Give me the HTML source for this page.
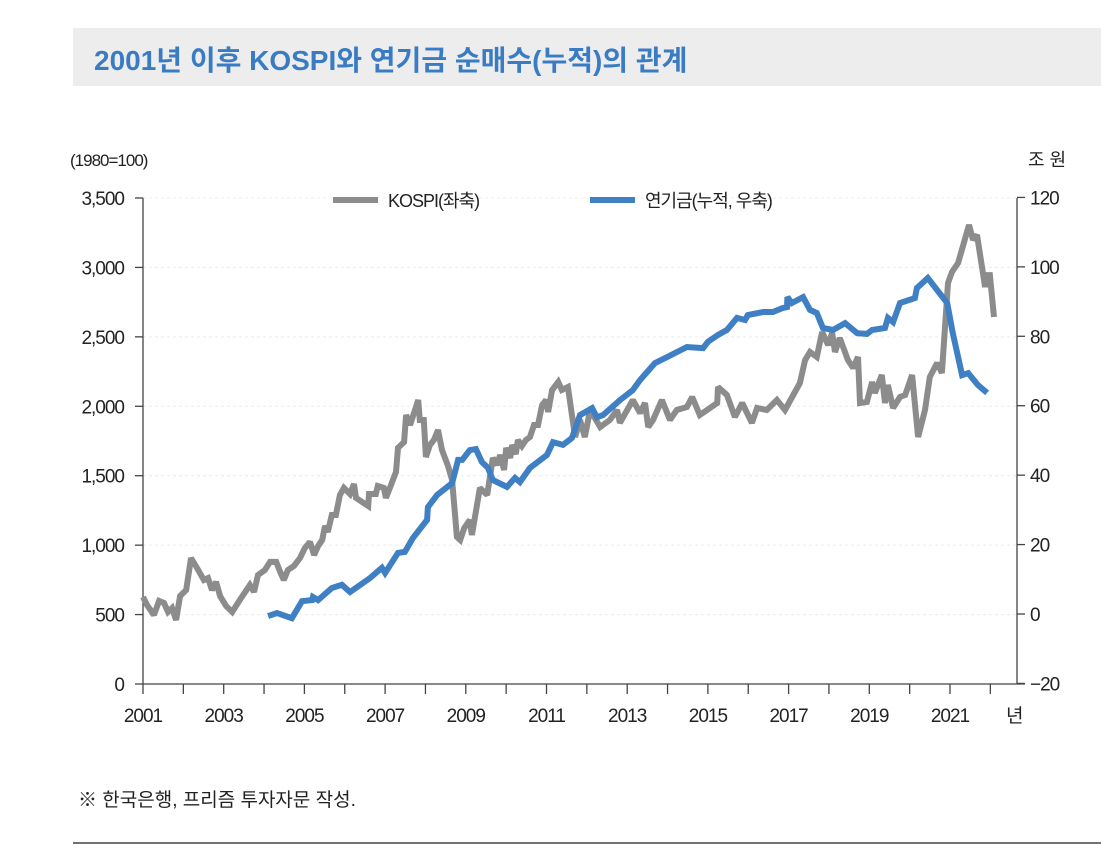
<!DOCTYPE html>
<html><head><meta charset="utf-8"><style>
body{margin:0;background:#fff;width:1101px;height:856px;overflow:hidden;font-family:"Liberation Sans","Noto Sans CJK KR",sans-serif;}
svg text{font-family:"Liberation Sans","Noto Sans CJK KR",sans-serif;}
</style></head><body>
<svg id="chart" width="1101" height="856">
<rect x="73" y="28" width="1028" height="58" fill="#ededed"/>
<text x="94" y="70" font-size="28" font-weight="bold" fill="#3a7cc3">2001년 이후 KOSPI와 연기금 순매수(누적)의 관계</text>
<text x="70" y="166" font-size="17" fill="#222" style="letter-spacing:-1px">(1980=100)</text>
<text x="1028" y="166" font-size="18" fill="#222">조 원</text>
<g id="grid"></g><g id="axes"></g><g id="series"></g>
<line x1="333" y1="200" x2="378" y2="200" stroke="#8c8c8c" stroke-width="6"/>
<text x="388" y="207" font-size="18" fill="#222" style="letter-spacing:-1px">KOSPI(좌축)</text>
<line x1="590" y1="200" x2="635" y2="200" stroke="#3f7fc3" stroke-width="6"/>
<text x="645" y="207" font-size="18" fill="#222" style="letter-spacing:-1px">연기금(누적, 우축)</text>
<text x="78" y="806" font-size="19" fill="#222">※ 한국은행, 프리즘 투자자문 작성.</text>
<line x1="73" y1="843" x2="1101" y2="843" stroke="#444" stroke-width="1.5"/>
</svg>
<script>
const leftTicks=[0,500,1000,1500,2000,2500,3000,3500];
const rightTicks=[-20,0,20,40,60,80,100,120];
const xLabels=[2001,2003,2005,2007,2009,2011,2013,2015,2017,2019,2021];
const kospiT=[2001.00,2001.10,2001.27,2001.40,2001.52,2001.62,2001.72,2001.82,2001.92,2002.07,2002.19,2002.34,2002.51,2002.61,2002.71,2002.81,2002.91,2003.06,2003.21,2003.40,2003.65,2003.75,2003.85,2004.02,2004.15,2004.30,2004.40,2004.49,2004.59,2004.74,2004.89,2005.01,2005.14,2005.24,2005.34,2005.44,2005.51,2005.58,2005.68,2005.78,2005.88,2005.98,2006.13,2006.23,2006.28,2006.43,2006.58,2006.60,2006.77,2006.82,2006.97,2007.02,2007.12,2007.27,2007.32,2007.47,2007.52,2007.62,2007.82,2007.86,2007.96,2008.01,2008.11,2008.21,2008.31,2008.41,2008.56,2008.66,2008.78,2008.86,2008.96,2009.10,2009.15,2009.35,2009.53,2009.67,2009.77,2009.85,2009.95,2010.00,2010.10,2010.15,2010.24,2010.29,2010.39,2010.49,2010.59,2010.69,2010.79,2010.89,2010.99,2011.04,2011.14,2011.29,2011.38,2011.53,2011.71,2011.83,2011.95,2012.08,2012.33,2012.57,2012.75,2012.82,2013.00,2013.14,2013.32,2013.44,2013.52,2013.64,2013.86,2014.06,2014.23,2014.48,2014.61,2014.80,2014.98,2015.23,2015.25,2015.47,2015.67,2015.85,2016.09,2016.22,2016.46,2016.71,2016.91,2017.28,2017.41,2017.53,2017.70,2017.83,2017.98,2018.08,2018.15,2018.27,2018.47,2018.60,2018.72,2018.77,2018.94,2019.07,2019.14,2019.31,2019.39,2019.46,2019.59,2019.76,2019.89,2020.06,2020.21,2020.38,2020.50,2020.68,2020.80,2020.95,2021.05,2021.20,2021.47,2021.57,2021.67,2021.87,2021.92,2021.99,2022.09];
const kospiV=[627,569,497,598,583,519,547,461,634,677,907,835,749,763,677,735,634,562,519,605,713,663,785,821,879,879,807,749,821,850,907,979,1023,929,994,1037,1138,1095,1217,1217,1361,1412,1368,1440,1340,1311,1282,1368,1368,1426,1412,1340,1412,1527,1700,1743,1937,1865,2045,1901,1901,1635,1721,1757,1829,1685,1570,1469,1059,1037,1123,1181,1073,1412,1361,1628,1577,1649,1541,1700,1628,1721,1656,1757,1714,1757,1779,1865,1865,2009,2045,1959,2117,2175,2117,2139,1779,1901,1779,1973,1851,1901,1973,1880,1973,2045,1952,2024,1851,1901,2045,1901,1973,1995,2067,1937,1973,2024,2139,2081,1923,2024,1880,1988,1973,2045,1973,2168,2333,2391,2355,2535,2441,2528,2391,2492,2333,2276,2355,2024,2031,2175,2096,2225,2024,2153,1988,2067,2081,2225,1779,1973,2211,2312,2240,2888,2967,3032,3306,3198,3234,2859,2945,2945,2643];
const pensionT=[2004.10,2004.32,2004.69,2004.94,2005.19,2005.21,2005.34,2005.68,2005.93,2006.13,2006.63,2006.92,2007.00,2007.32,2007.49,2007.69,2008.04,2008.06,2008.29,2008.66,2008.81,2008.91,2009.10,2009.25,2009.40,2009.55,2009.67,2010.02,2010.22,2010.34,2010.59,2011.01,2011.16,2011.41,2011.63,2011.83,2012.13,2012.25,2012.40,2012.82,2013.14,2013.32,2013.69,2013.99,2014.48,2014.88,2015.00,2015.25,2015.47,2015.72,2015.92,2015.99,2016.37,2016.61,2016.84,2016.96,2016.97,2017.08,2017.36,2017.53,2017.70,2017.85,2018.10,2018.40,2018.70,2018.94,2019.07,2019.39,2019.46,2019.59,2019.76,2020.13,2020.18,2020.45,2020.93,2021.07,2021.30,2021.45,2021.69,2021.92];
const pensionV=[-0.6,0.3,-1.2,3.7,4.0,4.9,4.0,7.5,8.4,6.3,10.4,13.3,11.8,17.6,17.9,21.9,27.1,30.8,34.3,37.7,44.4,44.4,47.2,47.5,43.8,42.1,38.6,36.6,39.2,38.0,42.1,45.8,49.5,48.7,50.7,57.3,59.3,56.7,57.3,61.6,64.5,67.4,72.3,74.0,76.9,76.6,78.4,80.4,81.8,85.3,84.7,86.1,87.0,87.0,88.1,88.4,91.3,89.6,91.3,87.6,86.7,82.4,81.8,83.8,80.9,80.7,81.8,82.4,85.3,84.1,89.6,91.0,93.9,96.8,89.6,80.9,68.8,69.4,66.0,63.7];
const X=t=>143+(t-2001)*40.35;
const YL=v=>684-v*(486/3500);
const YR=v=>614-v*(486/140);
const NS='http://www.w3.org/2000/svg';
function mk(tag,attrs,parent){const e=document.createElementNS(NS,tag);for(const k in attrs)e.setAttribute(k,attrs[k]);parent.appendChild(e);return e;}
const grid=document.getElementById('grid'),axes=document.getElementById('axes'),series=document.getElementById('series');
leftTicks.forEach(v=>{
 if(v>0){const g=mk('line',{x1:143,x2:1017,y1:YL(v),y2:YL(v),stroke:'#ececec','stroke-width':1,'stroke-dasharray':'3,3'},grid);
 
 }
 const t=mk('line',{x1:135,x2:143,y1:YL(v),y2:YL(v),stroke:'#444','stroke-width':1.3},axes);
 
 
 const l=mk('text',{x:124,y:YL(v)+7,'font-size':19,'text-anchor':'end',fill:'#222',style:'letter-spacing:-1px'},axes);
 l.textContent=v.toLocaleString('en-US');
 
 
});
rightTicks.forEach(v=>{
 const t=mk('line',{x1:1017,x2:1025,y1:YR(v),y2:YR(v),stroke:'#444','stroke-width':1.3},axes);
 
 
 const l=mk('text',{x:1030,y:YR(v)+7,'font-size':19,fill:'#222',style:'letter-spacing:-1px'},axes);
 l.textContent=v<0?'\u2212'+Math.abs(v):String(v);
 
 
});
for(let y=2001;y<=2022;y++){
 const t=mk('line',{x1:X(y),x2:X(y),y1:684,y2:694,stroke:'#444','stroke-width':1.3},axes);
 
 
}
xLabels.forEach(y=>{
 const l=mk('text',{x:X(y),y:722,'font-size':19,'text-anchor':'middle',fill:'#222',style:'letter-spacing:-1px'},axes);
 l.textContent=String(y);
 
 
});
const yu=mk('text',{x:1006,y:722,'font-size':19,fill:'#222'},axes);yu.textContent='년';


const la=mk('line',{x1:143,x2:143,y1:198,y2:684,stroke:'#444','stroke-width':1.3},axes);


const ra=mk('line',{x1:1017,x2:1017,y1:198,y2:684,stroke:'#444','stroke-width':1.3},axes);


const xa=mk('line',{x1:143,x2:1025,y1:684,y2:684,stroke:'#444','stroke-width':1.3},axes);


const kp=mk('polyline',{points:kospiT.map((t,i)=>X(t).toFixed(1)+','+YL(kospiV[i]).toFixed(1)).join(' '),fill:'none',stroke:'#8c8c8c','stroke-width':6,'stroke-linejoin':'miter','stroke-miterlimit':2},series);


const pp=mk('polyline',{points:pensionT.map((t,i)=>X(t).toFixed(1)+','+YR(pensionV[i]).toFixed(1)).join(' '),fill:'none',stroke:'#3f7fc3','stroke-width':6,'stroke-linejoin':'miter','stroke-miterlimit':2},series);


</script>
</body></html>
